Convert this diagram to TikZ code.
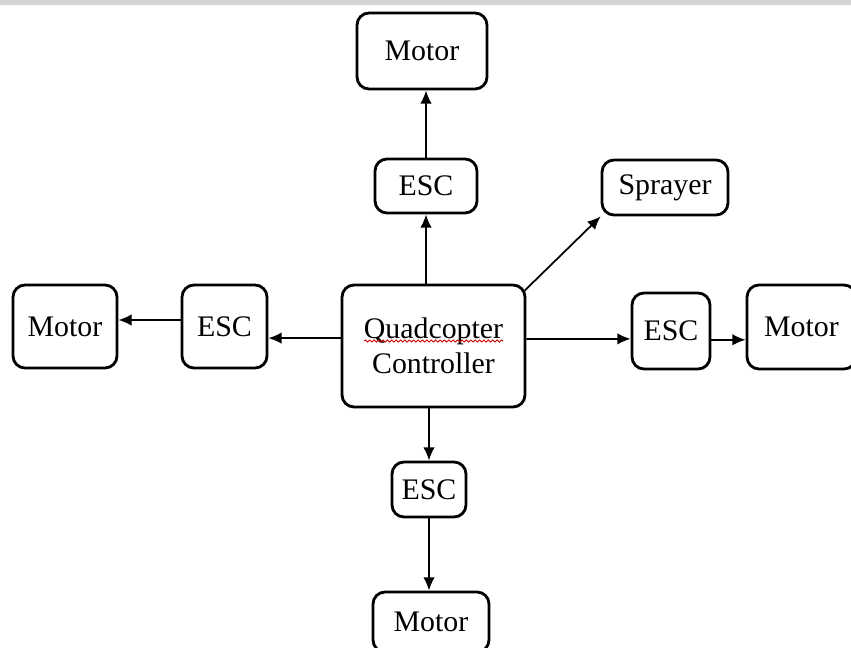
\documentclass[tikz,border=0pt]{standalone}
\usepackage{fontspec}
\setmainfont{Liberation Serif}
\usepackage{tikz}
\usetikzlibrary{arrows.meta,decorations.pathmorphing}
\definecolor{band}{HTML}{D4D4D4}

\begin{document}
\begin{tikzpicture}[x=0.02cm,y=-0.02cm,
    blk/.style={draw,line width=1.6pt,rounded corners=0.24cm,inner sep=0pt,
      font=\fontsize{17}{20}\selectfont,align=center},
    arr/.style={line width=1pt,-{Latex[length=7.5pt,width=6.5pt]}}]
      \clip (0,0) rectangle (851,648);
      \fill[band] (0,0) rectangle (851,5);

      \path
      (422,51) node[blk,minimum width=2.6cm,minimum height=1.52cm](mtop) {Motor}
      (426,186) node[blk,minimum width=2.04cm,minimum height=1.08cm](esct) {ESC}
      (665,187.5) node[blk,minimum width=2.52cm,minimum height=1.1cm](spray) {Sprayer}
      (433.5,346) node[blk,minimum width=3.66cm,minimum height=2.44cm](ctrl) {Quadcopter\\Controller}
      (224.5,326.5) node[blk,minimum width=1.7cm,minimum height=1.66cm](escl) {ESC}
      (65,326.5) node[blk,minimum width=2.08cm,minimum height=1.66cm](motl) {Motor}
      (671,331) node[blk,minimum width=1.56cm,minimum height=1.52cm](escr) {ESC}
      (801.5,327) node[blk,minimum width=2.18cm,minimum height=1.68cm](motr) {Motor}
      (429,489.5) node[blk,minimum width=1.48cm,minimum height=1.1cm](escb) {ESC}
      (431,622) node[blk,minimum width=2.32cm,minimum height=1.2cm](motb) {Motor}
      ;

      % spell check mark
      \draw[red!80!black,line width=0.5pt,decorate,
        decoration={snake,amplitude=0.6pt,segment length=2.5pt}]
        (364,341) -- (503,341);

      \draw[arr] (ctrl.north -| esct) -- (esct);
      \draw[arr] (esct) -- (esct |- mtop.south);
      \draw[arr] ([xshift=-1pt,yshift=-4pt]ctrl.north east) -- (spray.south west);
      \draw[arr] ([yshift=4pt]ctrl.east) -- ([yshift=-4.5pt]escr.west);
      \draw[arr] ([yshift=-5pt]escr.east) -- ([yshift=-5pt]escr.east -| motr.west);
      \draw[arr] ([yshift=4.5pt]ctrl.west) -- ([yshift=4.5pt]ctrl.west -| escl.east);
      \draw[arr] ([yshift=3.7pt]escl.west) -- ([yshift=3.7pt]escl.west -| motl.east);
      \draw[arr] (ctrl.south -| escb) -- (escb);
      \draw[arr] (escb) -- (escb |- motb.north);
\end{tikzpicture}
\end{document}
